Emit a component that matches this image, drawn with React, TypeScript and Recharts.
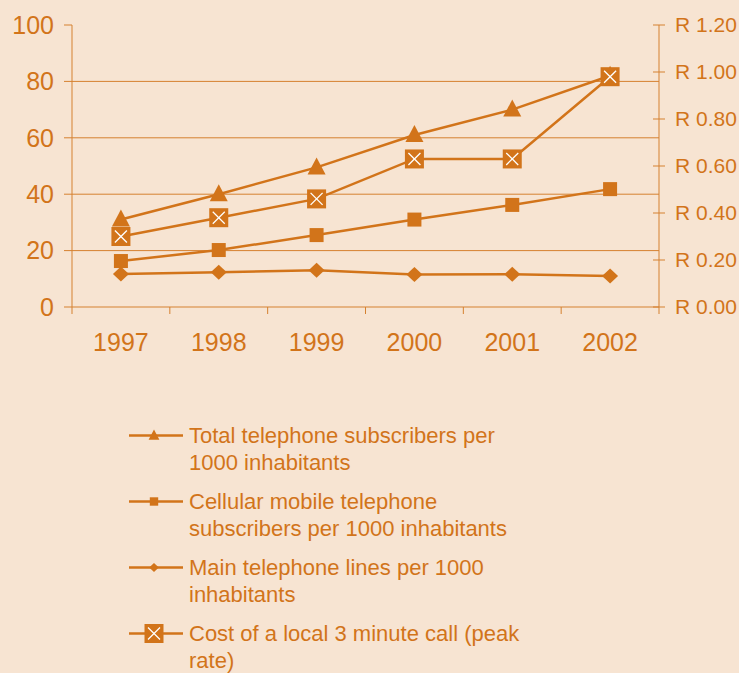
import React from "react";
import { LineChart, Line, XAxis, YAxis, ReferenceLine, Legend } from "recharts";

// Telephony indicators, 1997-2002
const years = ["1997", "1998", "1999", "2000", "2001", "2002"];
const totalSubscribers = [31, 40, 49.5, 61, 70, 82];
const cellularSubscribers = [16.3, 20.2, 25.5, 31, 36.2, 41.8];
const mainLines = [11.7, 12.3, 13, 11.5, 11.6, 11];
const localCallCost = [0.3, 0.38, 0.46, 0.63, 0.63, 0.98];

const leftTicks = [0, 20, 40, 60, 80, 100];
const rightTicks = [0, 0.2, 0.4, 0.6, 0.8, 1, 1.2];
const gridValues = [20, 40, 60, 80];

const ORANGE = "#d2741a";
const GRID = "#d58130";
const BG = "#f7e4d2";
const FONT = '"Liberation Sans", Arial, sans-serif';

const WIDTH = 739;
const HEIGHT = 673;
const PLOT_LEFT = 72;
const PLOT_RIGHT = 659;
const HALF_BAND = (PLOT_RIGHT - PLOT_LEFT) / years.length / 2;

type Marker = "triangle" | "square" | "diamond" | "crossBox";

const series: { key: string; name: string; marker: Marker; axis: string }[] = [
  { key: "total", name: "Total telephone subscribers per 1000 inhabitants", marker: "triangle", axis: "left" },
  { key: "cellular", name: "Cellular mobile telephone subscribers per 1000 inhabitants", marker: "square", axis: "left" },
  { key: "main", name: "Main telephone lines per 1000 inhabitants", marker: "diamond", axis: "left" },
  { key: "cost", name: "Cost of a local 3 minute call (peak rate)", marker: "crossBox", axis: "right" },
];

const data = years.map((year, i) => ({
  year,
  total: totalSubscribers[i],
  cellular: cellularSubscribers[i],
  main: mainLines[i],
  cost: localCallCost[i],
}));

function MarkerShape({ type, cx, cy, small }: { type: Marker; cx: number; cy: number; small?: boolean }) {
  const s = small ? 0.6 : 1;
  switch (type) {
    case "triangle":
      return (
        <polygon
          points={`${cx},${cy - 10 * s} ${cx - 9 * s},${cy + 7 * s} ${cx + 9 * s},${cy + 7 * s}`}
          fill={ORANGE}
        />
      );
    case "square":
      return <rect x={cx - 7 * s} y={cy - 7 * s} width={14 * s} height={14 * s} fill={ORANGE} />;
    case "diamond":
      return (
        <polygon
          points={`${cx},${cy - 7.5 * s} ${cx + 8 * s},${cy} ${cx},${cy + 7.5 * s} ${cx - 8 * s},${cy}`}
          fill={ORANGE}
        />
      );
    default:
      return (
        <g>
          <rect x={cx - 9.5} y={cy - 9.5} width={19} height={19} fill={ORANGE} />
          <line x1={cx - 6} y1={cy - 6} x2={cx + 6} y2={cy + 6} stroke="#fff" strokeWidth={1.3} />
          <line x1={cx - 6} y1={cy + 6} x2={cx + 6} y2={cy - 6} stroke="#fff" strokeWidth={1.3} />
        </g>
      );
  }
}

const makeDot = (type: Marker) => (props: any) => {
  const { cx, cy, index } = props;
  if (cx == null || cy == null) return <g key={`dot-${type}-${index}`} />;
  return (
    <g key={`dot-${type}-${index}`}>
      <MarkerShape type={type} cx={cx} cy={cy} />
    </g>
  );
};

function LeftTick({ x, y, payload }: any) {
  return (
    <text x={x} y={y} dy="0.355em" textAnchor="end" fill={ORANGE} fontSize={25} fontFamily={FONT}>
      {payload.value}
    </text>
  );
}

function RightTick({ x, y, payload }: any) {
  const axisX = x - 16;
  return (
    <g>
      <line x1={axisX - 6} y1={y} x2={axisX + 6} y2={y} stroke={GRID} />
      <text x={x} y={y} dy="0.355em" textAnchor="start" fill={ORANGE} fontSize={21} fontFamily={FONT}>
        {`R ${Number(payload.value).toFixed(2)}`}
      </text>
    </g>
  );
}

function YearTick({ x, y, payload, index }: any) {
  const axisY = y - 26;
  return (
    <g>
      <line x1={x - HALF_BAND} y1={axisY} x2={x - HALF_BAND} y2={axisY + 7} stroke={GRID} />
      {index === years.length - 1 && (
        <line x1={x + HALF_BAND} y1={axisY} x2={x + HALF_BAND} y2={axisY + 7} stroke={GRID} />
      )}
      <text x={x} y={y} dy="0.71em" textAnchor="middle" fill={ORANGE} fontSize={25} fontFamily={FONT}>
        {payload.value}
      </text>
    </g>
  );
}

function ChartLegend() {
  return (
    <div style={{ fontFamily: FONT, fontSize: 22, color: ORANGE, lineHeight: "27px" }}>
      {series.map((s) => (
        <div key={s.key} style={{ display: "flex", alignItems: "flex-start", marginBottom: 12 }}>
          <svg width={60} height={27} style={{ flex: "none" }}>
            <line x1={0} y1={13.5} x2={54} y2={13.5} stroke={ORANGE} strokeWidth={2.5} />
            <MarkerShape type={s.marker} cx={25} cy={13.5} small />
          </svg>
          <div style={{ width: 350 }}>{s.name}</div>
        </div>
      ))}
    </div>
  );
}

export default function App() {
  return (
    <div style={{ position: "absolute", top: 0, left: 0, width: WIDTH, height: HEIGHT, background: BG }}>
      <LineChart
        width={WIDTH}
        height={HEIGHT}
        data={data}
        margin={{ top: 25, right: 0, bottom: 306, left: 0 }}
      >
        <XAxis
          dataKey="year"
          height={60}
          padding={{ left: HALF_BAND, right: HALF_BAND }}
          axisLine={{ stroke: GRID }}
          tickLine={false}
          tickSize={6}
          tickMargin={20}
          tick={<YearTick />}
          interval={0}
        />
        <YAxis
          yAxisId="left"
          width={PLOT_LEFT}
          domain={[0, 100]}
          ticks={leftTicks}
          axisLine={{ stroke: GRID }}
          tickLine={{ stroke: GRID }}
          tickSize={8}
          tickMargin={10}
          tick={<LeftTick />}
          interval={0}
        />
        <YAxis
          yAxisId="right"
          orientation="right"
          width={WIDTH - PLOT_RIGHT}
          domain={[0, 1.2]}
          ticks={rightTicks}
          axisLine={{ stroke: GRID }}
          tickLine={false}
          tickSize={6}
          tickMargin={10}
          tick={<RightTick />}
          interval={0}
        />
        {gridValues.map((v) => (
          <ReferenceLine key={v} yAxisId="left" y={v} stroke={GRID} strokeWidth={1} />
        ))}
        {series.map((s) => (
          <Line
            key={s.key}
            yAxisId={s.axis}
            dataKey={s.key}
            name={s.name}
            type="linear"
            stroke={ORANGE}
            strokeWidth={2.5}
            dot={makeDot(s.marker)}
            activeDot={false}
            isAnimationActive={false}
          />
        ))}
        <Legend
          content={<ChartLegend />}
          layout="horizontal"
          align="center"
          verticalAlign="middle"
          wrapperStyle={{ left: 129, top: 422, bottom: "auto", width: 420 }}
        />
      </LineChart>
    </div>
  );
}
